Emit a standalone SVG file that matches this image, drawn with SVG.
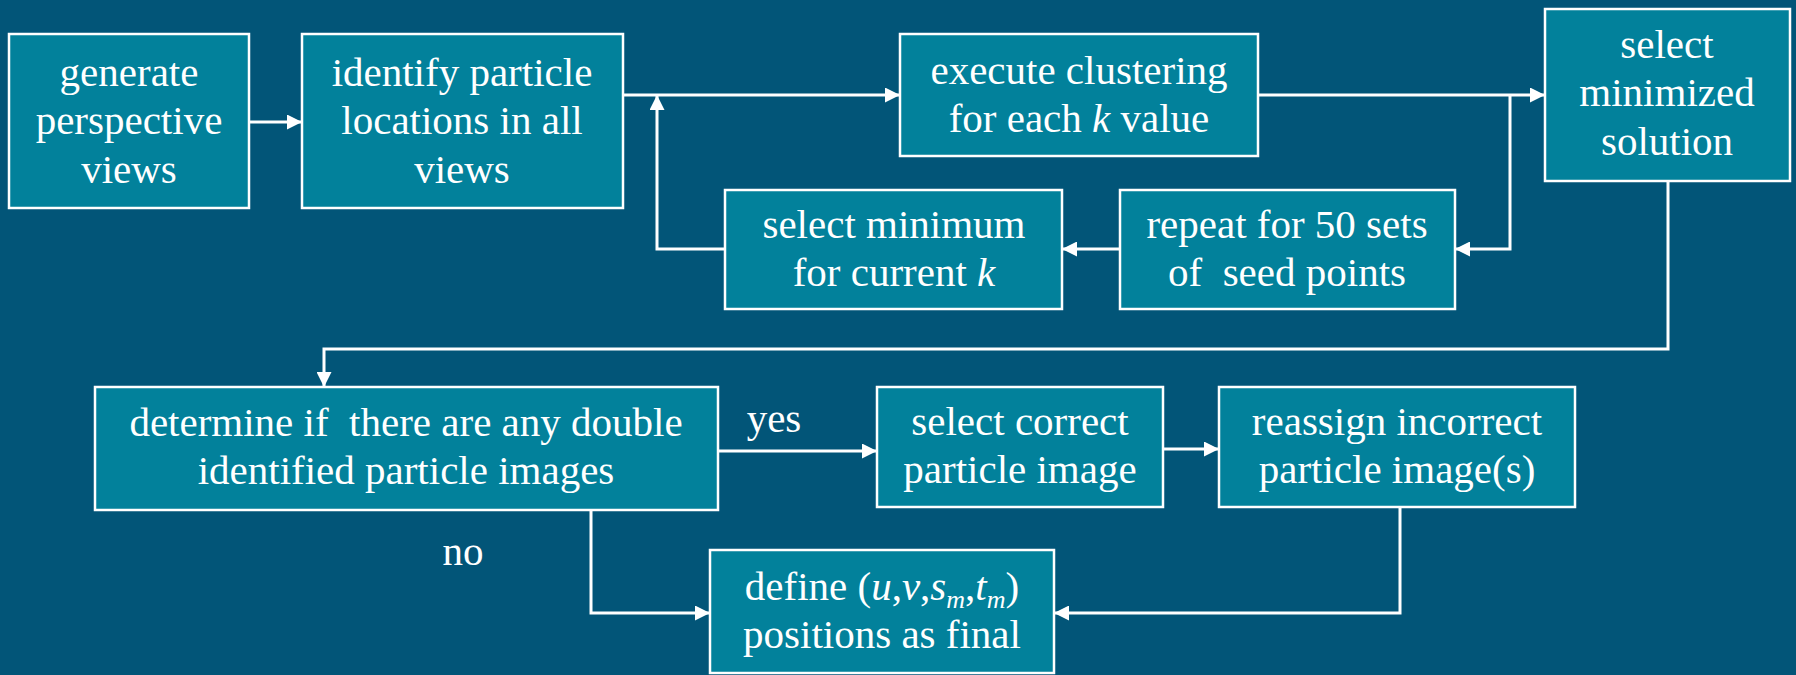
<svg xmlns="http://www.w3.org/2000/svg" width="1796" height="675" viewBox="0 0 1796 675">
<defs>
<marker id="ah" viewBox="0 0 10 10" refX="10" refY="5" markerWidth="5" markerHeight="5" markerUnits="strokeWidth" orient="auto">
<path d="M0,0 L10,5 L0,10 z" fill="#ffffff"/>
</marker>
<style>
.box{fill:#02819B;stroke:#ffffff;stroke-width:2.5}
.t{font-family:"Liberation Serif","Times New Roman",serif;font-size:41px;fill:#ffffff;text-anchor:middle;white-space:pre}
.c{fill:none;stroke:#ffffff;stroke-width:3}
.i{font-style:italic}
</style>
</defs>
<rect x="0" y="0" width="1796" height="675" fill="#025578"/>
<g id="n1"><rect class="box" x="9" y="34" width="240" height="174"/>
<text class="t" x="129" y="86">generate</text><text class="t" x="129" y="134">perspective</text><text class="t" x="129" y="183">views</text></g>
<g id="n2"><rect class="box" x="302" y="34" width="321" height="174"/>
<text class="t" x="462" y="86">identify particle</text><text class="t" x="462" y="134">locations in all</text><text class="t" x="462" y="183">views</text></g>
<g id="n3"><rect class="box" x="900" y="34" width="358" height="122"/>
<text class="t" x="1079" y="84">execute clustering</text><text class="t" x="1079" y="132">for each <tspan class="i">k</tspan> value</text></g>
<g id="n4"><rect class="box" x="1545" y="9" width="245" height="172"/>
<text class="t" x="1667" y="58">select</text><text class="t" x="1667" y="106">minimized</text><text class="t" x="1667" y="155">solution</text></g>
<g id="n5"><rect class="box" x="725" y="190" width="337" height="119"/>
<text class="t" x="894" y="238">select minimum</text><text class="t" x="894" y="286">for current <tspan class="i">k</tspan></text></g>
<g id="n6"><rect class="box" x="1120" y="190" width="335" height="119"/>
<text class="t" x="1287" y="238">repeat for 50 sets</text><text class="t" x="1287" y="286" xml:space="preserve">of  seed points</text></g>
<g id="n7"><rect class="box" x="95" y="387" width="623" height="123"/>
<text class="t" x="406" y="436" xml:space="preserve">determine if  there are any double</text><text class="t" x="406" y="484">identified particle images</text></g>
<g id="n8"><rect class="box" x="877" y="387" width="286" height="120"/>
<text class="t" x="1020" y="435">select correct</text><text class="t" x="1020" y="483">particle image</text></g>
<g id="n9"><rect class="box" x="1219" y="387" width="356" height="120"/>
<text class="t" x="1397" y="435">reassign incorrect</text><text class="t" x="1397" y="483">particle image(s)</text></g>
<g id="n10"><rect class="box" x="710" y="550" width="344" height="123"/>
<text class="t" x="882" y="600">define (<tspan class="i">u</tspan>,<tspan class="i">v</tspan>,<tspan class="i">s</tspan><tspan class="i" font-size="26" dy="8">m</tspan><tspan dy="-8">,</tspan><tspan class="i">t</tspan><tspan class="i" font-size="26" dy="8">m</tspan><tspan dy="-8">)</tspan></text><text class="t" x="882" y="648">positions as final</text></g>
<g id="connectors">
<path class="c" d="M249,122 H302" marker-end="url(#ah)"/>
<path class="c" d="M623,95 H900" marker-end="url(#ah)"/>
<path class="c" d="M1258,95 H1545" marker-end="url(#ah)"/>
<path class="c" d="M1510,95 V249 H1455" marker-end="url(#ah)"/>
<path class="c" d="M1120,249 H1062" marker-end="url(#ah)"/>
<path class="c" d="M725,249 H657 V95" marker-end="url(#ah)"/>
<path class="c" d="M1668,181 V349 H324 V387" marker-end="url(#ah)"/>
<path class="c" d="M718,451 H877" marker-end="url(#ah)"/>
<path class="c" d="M1163,449 H1219" marker-end="url(#ah)"/>
<path class="c" d="M1400,507 V613 H1054" marker-end="url(#ah)"/>
<path class="c" d="M591,510 V613 H710" marker-end="url(#ah)"/>
<text class="t" x="774" y="432">yes</text>
<text class="t" x="463" y="565">no</text>
</g>
</svg>
